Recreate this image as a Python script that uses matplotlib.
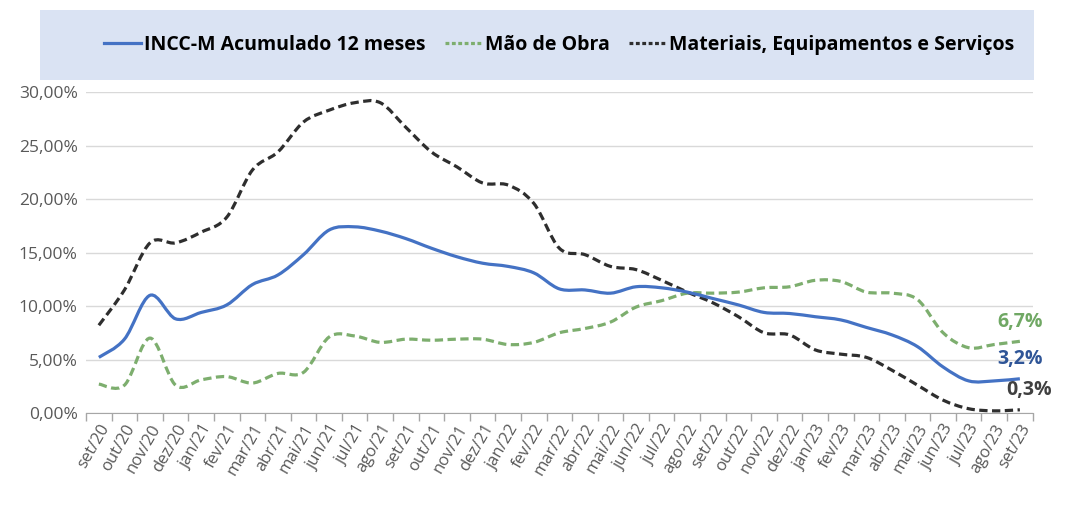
import matplotlib
matplotlib.use("Agg")
import matplotlib.pyplot as plt
from matplotlib import font_manager
from matplotlib.path import Path
from matplotlib.patches import PathPatch, Rectangle
from matplotlib.lines import Line2D
from matplotlib.ticker import FuncFormatter, FixedLocator

# --- dados (INCC-M, acumulado 12 meses, em %) ---
meses = ["set/20", "out/20", "nov/20", "dez/20", "jan/21", "fev/21", "mar/21", "abr/21",
         "mai/21", "jun/21", "jul/21", "ago/21", "set/21", "out/21", "nov/21", "dez/21",
         "jan/22", "fev/22", "mar/22", "abr/22", "mai/22", "jun/22", "jul/22", "ago/22",
         "set/22", "out/22", "nov/22", "dez/22", "jan/23", "fev/23", "mar/23", "abr/23",
         "mai/23", "jun/23", "jul/23", "ago/23", "set/23"]

incc = [5.2, 6.9, 11.0, 8.8, 9.4, 10.1, 12.0, 12.9, 14.8, 17.1, 17.4, 17.0, 16.3,
        15.4, 14.6, 14.0, 13.7, 13.1, 11.6, 11.5, 11.2, 11.8, 11.7, 11.3, 10.7,
        10.1, 9.4, 9.3, 9.0, 8.7, 8.0, 7.3, 6.2, 4.3, 3.0, 3.0, 3.2]

mao_obra = [2.7, 2.6, 7.0, 2.6, 3.1, 3.4, 2.8, 3.7, 3.8, 7.1, 7.2, 6.6, 6.9,
            6.8, 6.9, 6.9, 6.4, 6.6, 7.5, 7.9, 8.5, 9.9, 10.5, 11.2, 11.2,
            11.3, 11.7, 11.8, 12.4, 12.3, 11.3, 11.2, 10.6, 7.5, 6.1, 6.4, 6.7]

materiais = [8.2, 11.5, 15.9, 15.9, 16.9, 18.3, 22.7, 24.4, 27.2, 28.3, 29.0, 29.0, 26.7,
             24.4, 23.0, 21.5, 21.3, 19.6, 15.4, 14.8, 13.7, 13.4, 12.4, 11.3, 10.3,
             9.0, 7.5, 7.3, 5.9, 5.5, 5.2, 4.0, 2.6, 1.2, 0.4, 0.2, 0.3]

rotulos_finais = ["3,2%", "6,7%", "0,3%"]

AZUL = "#4472C4"
VERDE = "#7DAE6E"
PRETO = "#2E2E2E"
CINZA = "#595959"


def fonte(cands):
    nomes = {f.name for f in font_manager.fontManager.ttflist}
    for c in cands:
        if c in nomes:
            return c
    return "DejaVu Sans"


FONTE = fonte(["Liberation Sans Narrow", "Open Sans", "Lato", "DejaVu Sans"])
plt.rcParams["font.family"] = [FONTE, "DejaVu Sans"]


def curva(ax, y, **kw):
    # curva suavizada tipo Excel (Catmull-Rom em Bezier)
    x = list(range(len(y)))
    n = len(y)
    verts = [(x[0], y[0])]
    codes = [Path.MOVETO]
    for i in range(n - 1):
        x0, y0 = (x[i - 1], y[i - 1]) if i > 0 else (x[i], y[i])
        x3, y3 = (x[i + 2], y[i + 2]) if i + 2 < n else (x[i + 1], y[i + 1])
        c1 = (x[i] + (x[i + 1] - x0) / 6, y[i] + (y[i + 1] - y0) / 6)
        c2 = (x[i + 1] - (x3 - x[i]) / 6, y[i + 1] - (y3 - y[i]) / 6)
        verts += [c1, c2, (x[i + 1], y[i + 1])]
        codes += [Path.CURVE4] * 3
    ax.add_patch(PathPatch(Path(verts, codes), fill=False, capstyle="butt", **kw))


fig = plt.figure(figsize=(10.69, 5.07), dpi=100)
ax = fig.add_axes([0.0805, 0.1854, 0.8855, 0.6331])

# caixa da legenda
fig.patches.append(Rectangle((0.037, 0.842), 0.93, 0.138, transform=fig.transFigure,
                             facecolor="#DAE3F3", edgecolor="none", zorder=0))

tracejado = (0, (2.6, 1.4))
curva(ax, mao_obra, edgecolor=VERDE, lw=2.3, linestyle=tracejado, zorder=3)
curva(ax, materiais, edgecolor=PRETO, lw=2.3, linestyle=tracejado, zorder=3)
curva(ax, incc, edgecolor=AZUL, lw=2.3, zorder=4)

ax.set_xlim(-0.5, len(meses) - 0.5)
ax.set_ylim(0, 30)
ax.set_yticks([0, 5, 10, 15, 20, 25, 30])
ax.yaxis.set_major_formatter(FuncFormatter(lambda v, p: f"{v:.2f}%".replace(".", ",")))
ax.grid(axis="y", color="#D9D9D9", lw=1)
ax.set_axisbelow(True)

ax.set_xticks(range(len(meses)))
ax.set_xticklabels(meses, rotation=60, ha="right", va="top", rotation_mode="anchor")
ax.xaxis.set_minor_locator(FixedLocator([i - 0.5 for i in range(len(meses) + 1)]))
ax.tick_params(axis="x", which="major", length=0, pad=6, labelsize=12, labelcolor=CINZA)
ax.tick_params(axis="x", which="minor", length=6, color="#A6A6A6", width=1)
ax.tick_params(axis="y", length=0, labelsize=12.5, labelcolor=CINZA, pad=6)

for s in ["left", "right", "top"]:
    ax.spines[s].set_visible(False)
ax.spines["bottom"].set_color("#A6A6A6")

# rótulos no fim das séries
ult = len(meses) - 1
ax.text(ult + 0.0, incc[-1] + 0.9, rotulos_finais[0], color="#2F5597", fontsize=14,
        fontweight="bold", ha="center", va="bottom")
ax.text(ult + 0.0, mao_obra[-1] + 0.9, rotulos_finais[1], color="#70A864", fontsize=14,
        fontweight="bold", ha="center", va="bottom")
ax.text(ult + 0.35, materiais[-1] + 0.9, rotulos_finais[2], color="#404040", fontsize=14,
        fontweight="bold", ha="center", va="bottom")

handles = [Line2D([], [], color=AZUL, lw=2.3),
           Line2D([], [], color=VERDE, lw=2.3, linestyle=(0, (1.2, 0.8))),
           Line2D([], [], color=PRETO, lw=2.3, linestyle=(0, (1.2, 0.8)))]
nomes = ["INCC-M Acumulado 12 meses", "Mão de Obra", "Materiais, Equipamentos e Serviços"]
fig.legend(handles, nomes, loc="center", bbox_to_anchor=(0.523, 0.911), ncol=3,
           frameon=False, handlelength=1.9, handletextpad=0.15, columnspacing=1.0,
           prop={"size": 14, "weight": "bold"})

fig.savefig("out.png", dpi=100)
